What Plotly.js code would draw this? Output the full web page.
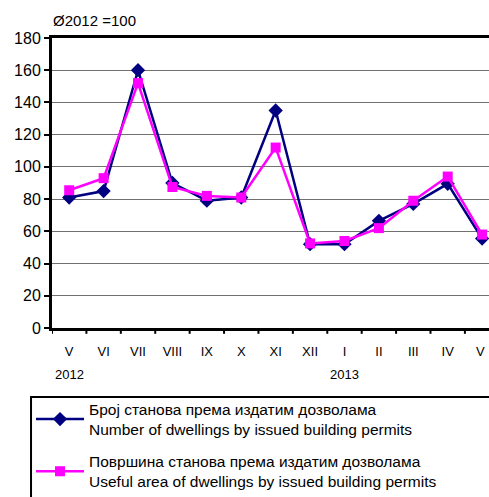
<!DOCTYPE html>
<html>
<head>
<meta charset="utf-8">
<script src="https://cdn.plot.ly/plotly-3.0.1.min.js"></script>
<style>html,body{margin:0;padding:0;background:#fff;}#chart{width:489px;height:497px;}</style>
</head>
<body>
<div id="chart"></div>
<script>
var months = ["V","VI","VII","VIII","IX","X","XI","XII","I","II","III","IV","V "];
var yearLabels = ["2012","2013"];
var yearPositions = [0, 8];
var dwellings = [81, 85, 160, 90, 79, 81, 135, 52, 52, 66.5, 77, 89.5, 55.5];
var usefulArea = [85.5, 93, 152, 87.5, 82, 81, 112, 52.5, 54, 62, 79, 94, 58];
var seriesNames = [
  "Број станова према издатим дозволама<br>Number of dwellings by issued building permits",
  "Површина станова према издатим дозволама<br>Useful area of dwellings by issued building permits"
];
var yTicks = [0,20,40,60,80,100,120,140,160,180];

var idx = months.map(function(_, i){ return i; });
var FONT = "'Liberation Sans', Arial, sans-serif";

var traces = [
  {x: idx, y: dwellings, name: seriesNames[0], legendgroup: "a", type: "scatter", mode: "lines+markers",
   line: {color: "#000080", width: 2.5},
   marker: {symbol: "diamond", size: 11, color: "#000080"}},
  {x: idx, y: usefulArea, name: seriesNames[1], legendgroup: "b", type: "scatter", mode: "lines+markers",
   line: {color: "#FF00FF", width: 2.5},
   marker: {symbol: "square", size: 10, color: "#FF00FF"}}
];

var annotations = yearLabels.map(function(t, i){
  return {text: t, x: yearPositions[i], xref: "x", y: -0.159, yref: "paper",
          showarrow: false, xanchor: "center", yanchor: "middle",
          font: {family: FONT, size: 13, color: "#000"}};
});
annotations.push({text: "Ø2012 =100", x: -0.002, xref: "paper", y: 1.062, yref: "paper",
  showarrow: false, xanchor: "left", yanchor: "middle",
  font: {family: FONT, size: 15, color: "#000"}});

var layout = {
  width: 489, height: 497,
  margin: {l: 52, r: 0, t: 38, b: 169, autoexpand: false},
  paper_bgcolor: "#fff", plot_bgcolor: "#fff",
  font: {family: FONT, color: "#000"},
  showlegend: true,
  xaxis: {
    type: "linear", range: [-0.5, 12.2],
    tickmode: "array", tickvals: idx, ticktext: months,
    showgrid: false, zeroline: false,
    showline: true, linecolor: "#000", linewidth: 3, mirror: true,
    ticks: "", ticklabelstandoff: 9, tickfont: {size: 13}
  },
  yaxis: {
    range: [0, 180], tickmode: "array", tickvals: yTicks,
    showgrid: true, gridcolor: "#707070", gridwidth: 1,
    zeroline: false, showline: true, linecolor: "#000", linewidth: 3,
    ticks: "outside", ticklen: 5, tickwidth: 2, tickcolor: "#000",
    tickfont: {size: 16}
  },
  shapes: [
    {type: "rect", xref: "paper", yref: "paper",
     x0: -0.048, x1: 1.01, y0: -0.238, y1: -0.60,
     line: {color: "#000", width: 2}, fillcolor: "rgba(0,0,0,0)"}
  ],
  legend: {
    x: -0.048, xanchor: "left", y: -0.222, yanchor: "top",
    borderwidth: 0, bgcolor: "rgba(0,0,0,0)",
    font: {size: 15.5, color: "#000"},
    tracegroupgap: 9, itemwidth: 48
  },
  annotations: annotations
};

// category boundary tick marks on the x-axis
for (var i = 0; i <= months.length; i++) {
  layout.shapes.push({type: "line", xref: "x", yref: "paper",
    x0: i - 0.5, x1: i - 0.5, y0: 0, y1: -0.02,
    line: {color: "#000", width: 2}});
}

Plotly.newPlot("chart", traces, layout, {displayModeBar: false, staticPlot: true});
</script>
</body>
</html>
